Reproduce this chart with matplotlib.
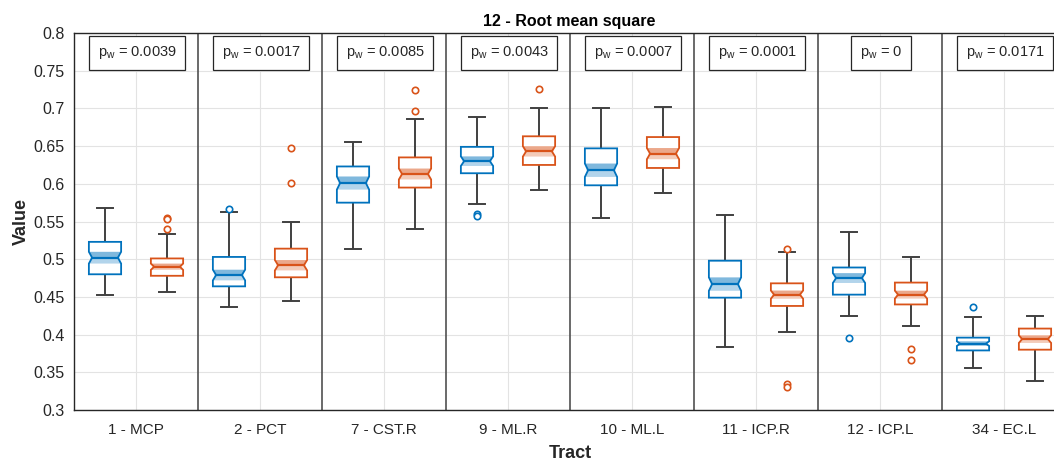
import numpy as np
import matplotlib
matplotlib.use("Agg")
import matplotlib.pyplot as plt
from matplotlib.patches import Polygon

plt.rcParams['font.family'] = ['Liberation Sans', 'DejaVu Sans']
plt.rcParams['mathtext.fontset'] = 'custom'
plt.rcParams['mathtext.rm'] = 'Liberation Sans'

tracts = ['1 - MCP', '2 - PCT', '7 - CST.R', '9 - ML.R', '10 - ML.L',
          '11 - ICP.R', '12 - ICP.L', '34 - EC.L']
p_values = ['0.0039', '0.0017', '0.0085', '0.0043', '0.0007', '0.0001', '0', '0.0171']

# group 1 (blue) summary statistics
blue_whislo = [0.452, 0.437, 0.513, 0.573, 0.555, 0.384, 0.425, 0.356]
blue_q1 = [0.480, 0.464, 0.575, 0.614, 0.598, 0.449, 0.453, 0.379]
blue_med = [0.502, 0.479, 0.601, 0.630, 0.618, 0.467, 0.475, 0.388]
blue_q3 = [0.523, 0.503, 0.623, 0.649, 0.647, 0.498, 0.489, 0.396]
blue_whishi = [0.568, 0.562, 0.655, 0.688, 0.700, 0.558, 0.536, 0.423]
blue_fliers = [[], [0.567], [], [0.560, 0.557], [], [], [0.396], [0.436]]

# group 2 (orange) summary statistics
orange_whislo = [0.456, 0.445, 0.540, 0.592, 0.588, 0.403, 0.411, 0.338]
orange_q1 = [0.478, 0.476, 0.595, 0.625, 0.621, 0.438, 0.440, 0.380]
orange_med = [0.490, 0.492, 0.613, 0.643, 0.640, 0.453, 0.453, 0.394]
orange_q3 = [0.501, 0.514, 0.635, 0.663, 0.662, 0.468, 0.469, 0.408]
orange_whishi = [0.533, 0.550, 0.686, 0.701, 0.702, 0.509, 0.503, 0.425]
orange_fliers = [[0.555, 0.553, 0.540], [0.647, 0.601], [0.725, 0.696], [0.726],
                 [], [0.513, 0.335, 0.330], [0.381, 0.366], []]

n_subjects = 75

BLUE = '#0072BD'
ORANGE = '#D95319'
WHISK = '#404040'

fig = plt.figure(figsize=(10.54, 4.67), dpi=100)
ax = fig.add_axes([74 / 1054, 57 / 467, 992 / 1054, 377 / 467])

box_w = 0.26
cap_w = 0.13
notch_in = 0.1


def draw_box(x, lo, q1, med, q3, hi, fliers, color):
    half = box_w / 2
    nh = 1.57 * (q3 - q1) / np.sqrt(n_subjects)
    ci_lo = max(q1, med - nh)
    ci_hi = min(q3, med + nh)
    inner = half * (1 - 2 * notch_in)
    # whiskers and caps
    ax.plot([x, x], [q3, hi], color=WHISK, lw=1.4, zorder=3, solid_capstyle='butt')
    ax.plot([x, x], [lo, q1], color=WHISK, lw=1.4, zorder=3, solid_capstyle='butt')
    ax.plot([x - cap_w / 2, x + cap_w / 2], [hi, hi], color=WHISK, lw=1.4, zorder=3)
    ax.plot([x - cap_w / 2, x + cap_w / 2], [lo, lo], color=WHISK, lw=1.4, zorder=3)
    # notched box outline
    outline = [(x - half, q1), (x - half, ci_lo), (x - inner, med), (x - half, ci_hi),
               (x - half, q3), (x + half, q3), (x + half, ci_hi), (x + inner, med),
               (x + half, ci_lo), (x + half, q1)]
    ax.add_patch(Polygon(outline, closed=True, facecolor='white', edgecolor='none',
                         zorder=4))
    # shaded confidence band around the median (stronger above it)
    upper = [(x - inner, med), (x - half, ci_hi), (x + half, ci_hi), (x + inner, med)]
    lower = [(x - half, ci_lo), (x - inner, med), (x + inner, med), (x + half, ci_lo)]
    ax.add_patch(Polygon(upper, closed=True, facecolor=color, edgecolor='none',
                         alpha=0.5, zorder=4))
    ax.add_patch(Polygon(lower, closed=True, facecolor=color, edgecolor='none',
                         alpha=0.3, zorder=4))
    ax.add_patch(Polygon(outline, closed=True, facecolor='none', edgecolor=color,
                         lw=1.3, zorder=5))
    ax.plot([x - inner, x + inner], [med, med], color=color, lw=1.6, zorder=5)
    if fliers:
        ax.plot([x] * len(fliers), fliers, 'o', ms=4.6, mfc='white', mec=color,
                mew=1.2, zorder=6, linestyle='none')


for i in range(len(tracts)):
    c = i + 1
    draw_box(c - 0.25, blue_whislo[i], blue_q1[i], blue_med[i], blue_q3[i],
             blue_whishi[i], blue_fliers[i], BLUE)
    draw_box(c + 0.25, orange_whislo[i], orange_q1[i], orange_med[i], orange_q3[i],
             orange_whishi[i], orange_fliers[i], ORANGE)
    ax.text(c + 0.01, 0.7735, 'p$_\\mathregular{w}$ = ' + p_values[i], ha='center',
            va='center', fontsize=10.5, color='#262626', zorder=8,
            bbox=dict(boxstyle='square,pad=0.6', facecolor='white',
                      edgecolor='#262626', lw=0.9))

for b in np.arange(1.5, len(tracts), 1.0):
    ax.axvline(b, color='#505050', lw=1.2, zorder=2)

ax.set_xlim(0.5, len(tracts) + 0.5)
ax.set_ylim(0.3, 0.8)
ax.set_yticks(np.arange(0.3, 0.801, 0.05))
ax.set_yticklabels(['0.3', '0.35', '0.4', '0.45', '0.5', '0.55', '0.6', '0.65',
                    '0.7', '0.75', '0.8'])
ax.set_xticks(np.arange(1, len(tracts) + 1))
ax.set_xticklabels(tracts)
ax.tick_params(axis='y', labelsize=11.5, labelcolor='#262626', length=0, pad=7)
ax.tick_params(axis='x', labelsize=11, labelcolor='#262626', length=0, pad=9)
ax.grid(True, color='#e3e3e3', lw=0.8, zorder=0)
ax.set_axisbelow(True)
for s in ax.spines.values():
    s.set_color('#262626')
    s.set_linewidth(1.0)

ax.set_xlabel('Tract', fontsize=13, fontweight='bold', color='#262626', labelpad=6)
ax.set_ylabel('Value', fontsize=13, fontweight='bold', color='#262626', labelpad=2)
ax.set_title('12 - Root mean square', fontsize=11.5, fontweight='bold', color='black',
             x=(569 - 74) / 992, pad=5)

fig.savefig('out.png', dpi=100)
